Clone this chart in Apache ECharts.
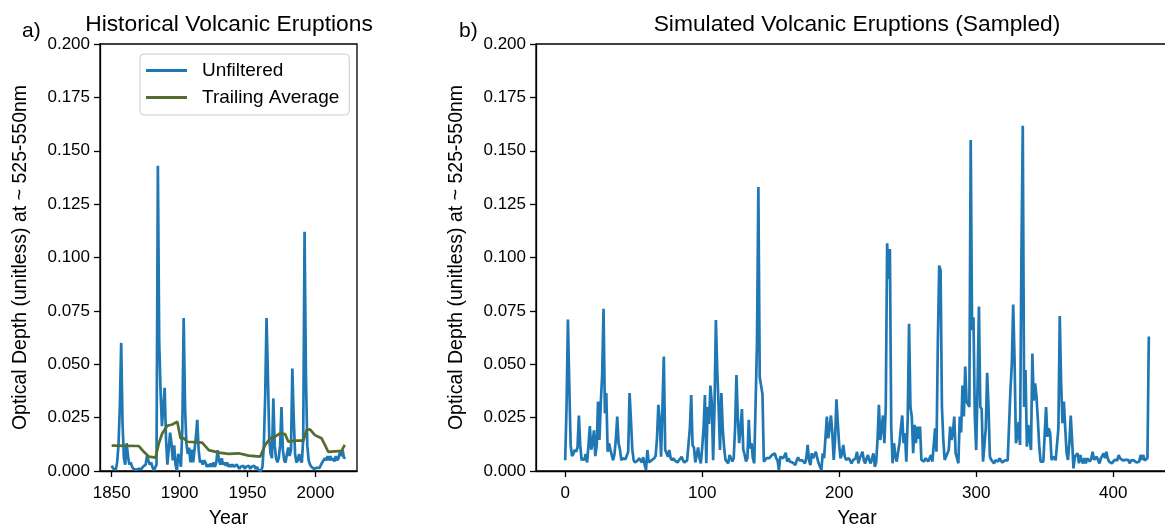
<!DOCTYPE html>
<html>
<head>
<meta charset="utf-8">
<script src="https://cdn.jsdelivr.net/npm/echarts@6/dist/echarts.min.js"></script>
<style>
html,body{margin:0;padding:0;background:#fff;overflow:hidden;}
#chart{width:1165px;height:524px;}
</style>
</head>
<body>
<div id="chart"></div>
<script>
// ---------- DATA ----------
const histStartYear = 1850;
const histUnfiltered = [
 0.0025,0.0012,0.0003,0.0005,0.004,0.012,0.030,0.060,0.022,0.006,
 0.003,0.013,0.007,0.003,0.004,0.002,0.001,0.0008,0.0006,0.0008,
 0.001,0.0015,0.001,0.002,0.0015,0.003,0.007,0.005,0.003,0.004,
 0.002,0.0002,0.0001,0.003,0.143,0.060,0.037,0.021,0.030,0.039,
 0.015,0.003,0.010,0.018,0.013,0.005,0.012,0.003,0.0001,0.008,
 0.006,0.002,0.020,0.0717,0.030,0.013,0.008,0.011,0.004,0.010,
 0.004,0.010,0.016,0.024,0.010,0.004,0.005,0.003,0.005,0.004,
 0.002,0.003,0.002,0.0035,0.002,0.004,0.002,0.004,0.0098,0.005,
 0.003,0.006,0.003,0.004,0.0025,0.004,0.002,0.003,0.002,0.003,
 0.002,0.0015,0.003,0.002,0.001,0.002,0.0015,0.0025,0.001,0.002,
 0.0015,0.0025,0.001,0.002,0.0015,0.0025,0.001,0.002,0.0005,0.0002,
 0.0001,0.002,0.012,0.035,0.0717,0.045,0.015,0.008,0.006,0.034,
 0.012,0.006,0.004,0.006,0.012,0.030,0.010,0.005,0.004,0.008,
 0.011,0.007,0.010,0.048,0.025,0.008,0.004,0.005,0.008,0.005,
 0.004,0.015,0.112,0.045,0.012,0.005,0.003,0.002,0.0015,0.001,
 0.0012,0.0015,0.001,0.0015,0.002,0.004,0.005,0.006,0.005,0.007,
 0.005,0.007,0.005,0.006,0.0045,0.007,0.005,0.006,0.009,0.007,
 0.010,0.006,0.0065
];
const trailingYears = [1850,1870,1873.7,1877.4,1882.3,1884.7,1887.2,1890.9,1894.6,1898.3,1900.7,1903.2,1905.6,1916.6,1921.5,1928.8,1936.1,1943.4,1950.8,1959.3,1963,1966.6,1970.3,1974,1977.6,1980.1,1985,1991.1,1993.5,1996,1999.6,2004.5,2007,2009.4,2019.2,2021.6];
const trailingValues = [0.0119,0.0117,0.0090,0.0067,0.0063,0.0129,0.0176,0.0212,0.0218,0.0231,0.0153,0.0153,0.0137,0.0133,0.0098,0.0086,0.0080,0.0083,0.0072,0.0067,0.0122,0.0153,0.0161,0.0176,0.0173,0.0137,0.0142,0.0142,0.0192,0.0195,0.0168,0.0153,0.0122,0.0090,0.0094,0.0122];

const simulated = [
 0.005,0.03,0.071,0.04,0.012,0.007,0.008,0.01,0.009,0.011,
 0.026,0.012,0.005,0.006,0.005,0.008,0.004,0.012,0.021,0.01,
 0.013,0.019,0.007,0.012,0.0325,0.0145,0.032,0.045,0.076,0.027,
 0.0365,0.009,0.013,0.01,0.01,0.005,0.008,0.015,0.0255,0.013,
 0.01,0.005,0.006,0.006,0.0055,0.006,0.009,0.0365,0.024,0.01,
 0.005,0.004,0.0035,0.005,0.006,0.0052,0.004,0.0065,0.003,0.0005,
 0.0098,0.004,0.0036,0.005,0.005,0.006,0.007,0.015,0.031,0.024,
 0.0067,0.03,0.0536,0.01,0.0098,0.0067,0.0098,0.006,0.005,0.006,
 0.005,0.0055,0.004,0.005,0.0045,0.0067,0.005,0.004,0.0036,0.005,
 0.0052,0.02,0.0356,0.012,0.011,0.004,0.0036,0.011,0.006,0.0036,
 0.011,0.02,0.0356,0.0036,0.03,0.022,0.040,0.032,0.005,0.03,
 0.0707,0.047,0.03,0.0098,0.0365,0.02,0.011,0.0052,0.006,0.0036,
 0.0075,0.0067,0.0044,0.006,0.02,0.045,0.025,0.013,0.02,0.029,
 0.01,0.0076,0.0044,0.006,0.024,0.0106,0.013,0.006,0.0036,0.004,
 0.06,0.133,0.044,0.04,0.036,0.0044,0.005,0.006,0.0052,0.006,
 0.0052,0.0075,0.007,0.0083,0.006,0.005,0.0005,0.0067,0.006,0.0059,
 0.007,0.0086,0.0044,0.006,0.0044,0.005,0.004,0.0036,0.0028,0.005,
 0.0064,0.005,0.0044,0.005,0.0059,0.0036,0.006,0.0122,0.005,0.0028,
 0.0083,0.006,0.0052,0.009,0.006,0.0036,0.002,0.0005,0.0083,0.006,
 0.0052,0.0255,0.0153,0.02,0.026,0.0177,0.0052,0.015,0.0336,0.0224,
 0.012,0.0059,0.008,0.0122,0.007,0.0052,0.0044,0.006,0.0067,0.0036,
 0.005,0.0044,0.006,0.009,0.0036,0.006,0.0075,0.009,0.005,0.0036,
 0.006,0.0075,0.005,0.0036,0.006,0.0083,0.002,0.004,0.015,0.031,
 0.0145,0.0137,0.026,0.013,0.03,0.1067,0.09,0.104,0.02,0.0036,
 0.013,0.007,0.0044,0.009,0.013,0.02,0.026,0.013,0.0177,0.0044,
 0.024,0.069,0.03,0.0255,0.0083,0.0216,0.013,0.0208,0.015,0.0208,
 0.0052,0.0048,0.0044,0.006,0.0052,0.0045,0.0036,0.0075,0.0044,0.012,
 0.020,0.009,0.06,0.0962,0.094,0.03,0.0145,0.0052,0.006,0.0083,
 0.01,0.0208,0.0145,0.018,0.0255,0.0083,0.006,0.0036,0.0255,0.018,
 0.040,0.0255,0.0489,0.0325,0.0317,0.03,0.155,0.066,0.072,0.0255,
 0.0098,0.04,0.077,0.03,0.029,0.0044,0.0044,0.02,0.046,0.030,
 0.0067,0.0052,0.006,0.0036,0.005,0.0052,0.0044,0.006,0.0052,0.004,
 0.0036,0.005,0.0059,0.005,0.0044,0.038,0.05,0.078,0.052,0.013,
 0.016,0.023,0.0122,0.1,0.1617,0.030,0.0473,0.0114,0.0216,0.015,
 0.0098,0.055,0.033,0.041,0.035,0.024,0.012,0.0044,0.005,0.0044,
 0.0052,0.030,0.016,0.02,0.0177,0.0052,0.006,0.0067,0.005,0.0052,
 0.02,0.0726,0.041,0.0224,0.0325,0.02,0.0083,0.0052,0.013,0.026,
 0.0145,0.0012,0.0067,0.0075,0.0083,0.0036,0.0075,0.005,0.0036,0.006,
 0.0036,0.0059,0.005,0.0044,0.006,0.009,0.0052,0.006,0.0067,0.005,
 0.0036,0.0059,0.005,0.0083,0.006,0.009,0.0059,0.0044,0.005,0.0036,
 0.0045,0.0052,0.0059,0.005,0.0075,0.006,0.0052,0.005,0.0044,0.0052,
 0.0044,0.0052,0.0036,0.005,0.0055,0.005,0.0044,0.004,0.0036,0.0044,
 0.0075,0.0052,0.0075,0.005,0.0052,0.006,0.063
];

const histXTicks = [1850, 1900, 1950, 2000];
const simXTicks = [0, 100, 200, 300, 400];
const titleLeft = 'Historical Volcanic Eruptions';
const titleRight = 'Simulated Volcanic Eruptions (Sampled)';
const yName = 'Optical Depth (unitless) at ~ 525-550nm';
const xName = 'Year';

// ---------- CHART ----------
const FONT = '"Liberation Sans", Arial, sans-serif';
const chart = echarts.init(document.getElementById('chart'), null, {renderer: 'canvas'});

const histData = histUnfiltered.map((v, i) => [histStartYear + i, v]);
const trailData = trailingYears.map((y, i) => [y, trailingValues[i]]);
const simData = simulated.map((v, i) => [i, v]);

function xAxisCfg(gi, min, max, ticks) {
  return {
    type: 'value', gridIndex: gi, min: min, max: max,
    name: xName, nameLocation: 'middle', nameGap: 38,
    nameTextStyle: {fontFamily: FONT, fontSize: 19.5, color: '#000'},
    axisLine: {show: true, onZero: false, lineStyle: {color: '#000', width: 1.3}},
    axisTick: {show: true, inside: false, length: 6, lineStyle: {color: '#000', width: 1.3}, customValues: ticks},
    axisLabel: {show: true, margin: 14, fontFamily: FONT, fontSize: 17, color: '#000', customValues: ticks,
      formatter: v => String(v)},
    splitLine: {show: false}
  };
}
function yAxisCfg(gi) {
  return {
    type: 'value', gridIndex: gi, min: 0, max: 0.2, interval: 0.025,
    name: yName, nameLocation: 'middle', nameGap: 69,
    nameTextStyle: {fontFamily: FONT, fontSize: 19.5, color: '#000'},
    axisLine: {show: true, onZero: false, lineStyle: {color: '#000', width: 1.3}},
    axisTick: {show: true, inside: false, length: 6, lineStyle: {color: '#000', width: 1.3}},
    axisLabel: {show: true, margin: 10, fontFamily: FONT, fontSize: 17, color: '#000',
      formatter: v => v.toFixed(3)},
    splitLine: {show: false}
  };
}

const option = {
  animation: false,
  backgroundColor: '#fff',
  grid: [
    {left: 100, top: 44, width: 257, height: 427, show: true, borderColor: '#000', borderWidth: 1.3,
      containLabel: false, outerBoundsMode: 'none'},
    {left: 536, top: 44, width: 642, height: 427, show: true, borderColor: '#000', borderWidth: 1.3,
      containLabel: false, outerBoundsMode: 'none'}
  ],
  xAxis: [xAxisCfg(0, 1841.4, 2030.6, histXTicks), xAxisCfg(1, -21.3, 447.3, simXTicks)],
  yAxis: [yAxisCfg(0), yAxisCfg(1)],
  legend: {
    show: true, orient: 'vertical', left: 140, top: 54,
    padding: [7, 10, 8, 6], itemGap: 8, itemWidth: 41, itemHeight: 2.8, icon: 'rect',
    backgroundColor: 'rgba(255,255,255,0.8)', borderColor: '#cccccc', borderWidth: 1, borderRadius: 4,
    textStyle: {fontFamily: FONT, fontSize: 19, color: '#000', padding: [0, 0, 0, 10]},
    data: [{name: 'Unfiltered'}, {name: 'Trailing Average'}]
  },
  graphic: [
    {type: 'text', x: 229, y: 24.5, style: {text: titleLeft, font: '22.8px ' + FONT, fill: '#000', align: 'center', verticalAlign: 'middle'}},
    {type: 'text', x: 857, y: 24.5, style: {text: titleRight, font: '22.8px ' + FONT, fill: '#000', align: 'center', verticalAlign: 'middle'}},
    {type: 'text', x: 22, y: 31, style: {text: 'a)', font: '21px ' + FONT, fill: '#000', align: 'left', verticalAlign: 'middle'}},
    {type: 'text', x: 459, y: 31, style: {text: 'b)', font: '21px ' + FONT, fill: '#000', align: 'left', verticalAlign: 'middle'}}
  ],
  series: [
    {name: 'Unfiltered', type: 'line', xAxisIndex: 0, yAxisIndex: 0, data: histData,
      symbol: 'none', lineStyle: {color: '#1f77b4', width: 2.7}, itemStyle: {color: '#1f77b4'}, z: 2},
    {name: 'Trailing Average', type: 'line', xAxisIndex: 0, yAxisIndex: 0, data: trailData,
      symbol: 'none', lineStyle: {color: '#556b2f', width: 2.7}, itemStyle: {color: '#556b2f'}, z: 3},
    {name: 'Simulated', type: 'line', xAxisIndex: 1, yAxisIndex: 1, data: simData,
      symbol: 'none', lineStyle: {color: '#1f77b4', width: 2.7}, itemStyle: {color: '#1f77b4'}, z: 2}
  ]
};
chart.setOption(option);
</script>
</body>
</html>
